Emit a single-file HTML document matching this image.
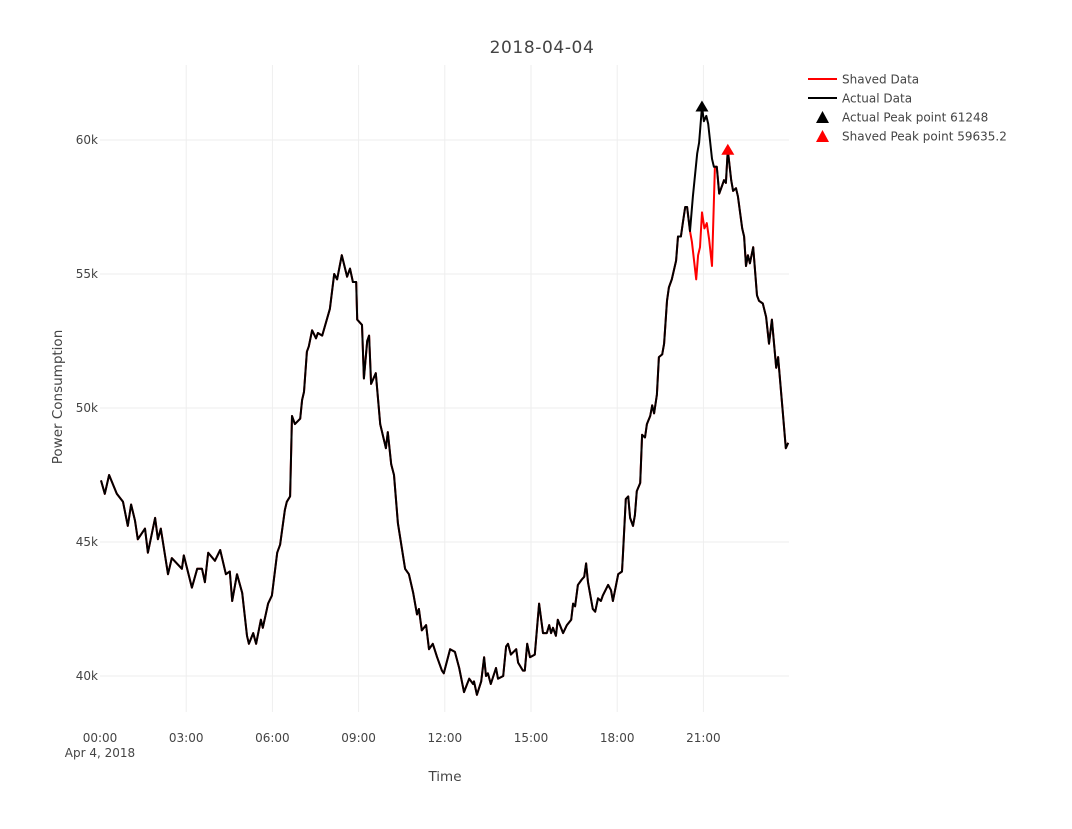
<!DOCTYPE html>
<html><head><meta charset="utf-8"><style>
body{margin:0;background:#fff;}
svg text{font-family:"DejaVu Sans","Liberation Sans",sans-serif;fill:#444;}
</style></head><body>
<svg width="1072" height="824" xmlns="http://www.w3.org/2000/svg">
<rect width="1072" height="824" fill="#fff"/>
<g id="grid"></g>
<g id="yticks"></g>
<g id="xticks"></g>
<g id="series"></g>
<text x="542" y="53" text-anchor="middle" font-size="17" letter-spacing="0.6">2018-04-04</text>
<text x="445" y="781" text-anchor="middle" font-size="13.5">Time</text>
<text transform="translate(62,397) rotate(-90)" text-anchor="middle" font-size="13.5">Power Consumption</text>
<g>
 <g><line x1="808" y1="79" x2="837" y2="79" stroke="#ff0000" stroke-width="2"/><text x="842" y="83.5" font-size="12">Shaved Data</text></g>
 <g><line x1="808" y1="98" x2="837" y2="98" stroke="#000" stroke-width="2"/><text x="842" y="102.5" font-size="12">Actual Data</text></g>
 <g><path d="M816,123 L829,123 L822.5,111 Z" fill="#000"/><text x="842" y="121.5" font-size="12">Actual Peak point 61248</text></g>
 <g><path d="M816,142 L829,142 L822.5,130 Z" fill="#ff0000"/><text x="842" y="140.5" font-size="12">Shaved Peak point 59635.2</text></g>
</g>
</svg>
<script>
const times=[2,10,19,35,48,58,65,73,79,94,100,115,121,127,142,150,171,175,192,203,213,219,226,240,251,263,271,276,286,297,307,311,320,326,336,340,351,359,370,376,386,390,397,401,407,418,422,426,432,436,443,451,455,464,480,489,495,505,516,522,528,535,537,547,551,558,562,566,576,585,597,601,608,614,622,637,645,654,662,666,672,681,687,695,704,714,718,731,741,750,760,771,779,781,787,796,802,806,810,816,827,831,842,848,852,858,869,873,883,887,892,898,908,917,925,933,938,942,946,952,956,967,975,984,988,992,998,1006,1011,1015,1019,1029,1034,1040,1046,1050,1061,1067,1071,1082,1090,1092,1098,1103,1107,1113,1117,1121,1128,1132,1138,1142,1149,1153,1157,1163,1167,1174,1178,1184,1188,1194,1203,1207,1213,1217,1222,1226,1232,1238,1247,1251,1257,1261,1266,1270,1278,1282,1288,1293,1299,1303,1307,1311,1318,1322,1328,1332,1341,1345,1349,1353,1357,1364,1372,1376,1384,1391,1397,1403,1412,1416,1426,1432,1437];
const actual=[47.3,46.8,47.5,46.8,46.5,45.6,46.4,45.8,45.1,45.5,44.6,45.9,45.1,45.5,43.8,44.4,44.0,44.5,43.3,44.0,44.0,43.5,44.6,44.3,44.7,43.8,43.9,42.8,43.8,43.1,41.5,41.2,41.6,41.2,42.1,41.8,42.7,43.0,44.6,44.9,46.2,46.5,46.7,49.7,49.4,49.6,50.3,50.6,52.1,52.3,52.9,52.6,52.8,52.7,53.7,55.0,54.8,55.7,54.9,55.2,54.7,54.7,53.3,53.1,51.1,52.5,52.7,50.9,51.3,49.4,48.5,49.1,47.9,47.5,45.7,44.0,43.8,43.1,42.3,42.5,41.7,41.9,41.0,41.2,40.7,40.2,40.1,41.0,40.9,40.3,39.4,39.9,39.7,39.8,39.3,39.8,40.7,40.0,40.1,39.7,40.3,39.9,40.0,41.1,41.2,40.8,41.0,40.5,40.2,40.2,41.2,40.7,40.8,42.7,41.6,41.6,41.9,41.6,41.8,41.5,42.1,41.6,41.9,42.1,42.7,42.6,43.4,43.6,43.7,44.2,43.5,42.5,42.4,42.9,42.8,43.0,43.4,43.2,42.8,43.8,43.9,44.5,46.6,46.7,45.9,45.6,46.0,46.9,47.2,49.0,48.9,49.4,49.7,50.1,49.8,50.5,51.9,52.0,52.4,54.0,54.5,54.8,55.5,56.4,56.4,56.9,57.5,57.5,56.6,57.9,59.5,59.9,61.248,60.7,60.9,60.6,59.3,59.0,59.0,58.0,58.3,58.5,58.4,59.6352,58.5,58.1,58.2,57.9,56.7,56.4,55.3,55.7,55.4,56.0,54.2,54.0,53.9,53.4,52.4,53.3,51.5,51.9,49.8,48.5,48.7];
const shavedSegTimes=[1236,1245,1249,1253,1257,1262,1267,1272,1278,1284];
const shavedSegValues=[56.2,54.8,55.7,56.0,57.3,56.7,56.9,56.3,55.3,59.0];
const yTickValues=[40,45,50,55,60];
const yTickLabels=["40k","45k","50k","55k","60k"];
const xTickMinutes=[0,180,360,540,720,900,1080,1260];
const xTickLabels=["00:00","03:00","06:00","09:00","12:00","15:00","18:00","21:00"];
const actualPeak=[1257,61.248];
const shavedPeak=[1311,59.6352];

const NS="http://www.w3.org/2000/svg";
const X=m=>100+m*(689.6/1440);
const Y=v=>676-(v-40)*26.8;
function mk(tag,attrs,parent){const e=document.createElementNS(NS,tag);for(const k in attrs)e.setAttribute(k,attrs[k]);parent.appendChild(e);return e;}
const grid=document.getElementById('grid'),yt=document.getElementById('yticks'),xt=document.getElementById('xticks'),ser=document.getElementById('series');
yTickValues.forEach((v,i)=>{
 const l=mk('line',{x1:100,x2:789,y1:Y(v),y2:Y(v),stroke:'#eee','stroke-width':1},grid);
 
 
 const t=mk('text',{x:98,y:Y(v)+4,'text-anchor':'end','font-size':12},yt);
 
 
 t.textContent=yTickLabels[i];
});
xTickMinutes.forEach((m,i)=>{
 if(m>0){
  const l=mk('line',{x1:X(m),x2:X(m),y1:65,y2:712,stroke:'#eee','stroke-width':1},grid);
  
  
 }
 const t=mk('text',{x:X(m),y:742,'text-anchor':'middle','font-size':12},xt);
 
 
 t.textContent=xTickLabels[i];
});
const d=mk('text',{x:X(0),y:757,'text-anchor':'middle','font-size':12},xt);


d.textContent='Apr 4, 2018';
const sT=[],sV=[];
const s0=shavedSegTimes[0],s1=shavedSegTimes[shavedSegTimes.length-1];
times.forEach((t,i)=>{if(t<s0){sT.push(t);sV.push(actual[i]);}});
shavedSegTimes.forEach((t,i)=>{sT.push(t);sV.push(shavedSegValues[i]);});
times.forEach((t,i)=>{if(t>s1){sT.push(t);sV.push(actual[i]);}});
const pts=(T,V)=>T.map((t,i)=>X(t).toFixed(1)+','+Y(V[i]).toFixed(1)).join(' ');
const sl=mk('polyline',{points:pts(sT,sV),fill:'none',stroke:'#ff0000','stroke-width':2,'stroke-linejoin':'round'},ser);


const al=mk('polyline',{points:pts(times,actual),fill:'none',stroke:'#000','stroke-width':2,'stroke-linejoin':'round'},ser);


function tri(p,color){const cx=X(p[0]),cy=Y(p[1]);return mk('path',{d:`M${cx-6.5},${cy+5} L${cx+6.5},${cy+5} L${cx},${cy-6} Z`,fill:color},ser);}
const ap=tri(actualPeak,'#000');


const sp=tri(shavedPeak,'#ff0000');


</script>
</body></html>
